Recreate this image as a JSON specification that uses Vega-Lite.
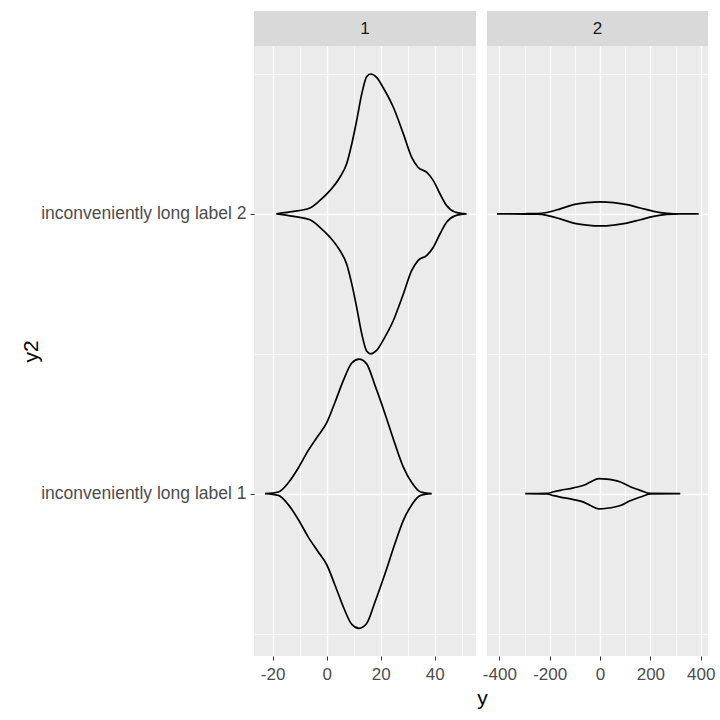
{
  "$schema": "https://vega.github.io/schema/vega-lite/v6.json",
  "background": "white",
  "padding": {"left": 20, "top": 11, "right": 5, "bottom": 5},
  "config": {
    "font": "Liberation Sans",
    "view": {"fill": "#EBEBEB", "stroke": null}
  },
  "title": {
    "text": "y",
    "orient": "bottom",
    "anchor": "middle",
    "fontSize": 21,
    "fontWeight": "normal",
    "color": "#000000",
    "dx": 115,
    "offset": 6
  },
  "datasets": {
    "violins": [
      {"panel": "1", "cat": 2, "value": -18.6, "lo": 2, "hi": 2},
      {"panel": "1", "cat": 2, "value": -13.6, "lo": 1.993, "hi": 2.007},
      {"panel": "1", "cat": 2, "value": -6.2, "lo": 1.979, "hi": 2.021},
      {"panel": "1", "cat": 2, "value": -2.5, "lo": 1.952, "hi": 2.048},
      {"panel": "1", "cat": 2, "value": 1.2, "lo": 1.917, "hi": 2.083},
      {"panel": "1", "cat": 2, "value": 4.9, "lo": 1.869, "hi": 2.131},
      {"panel": "1", "cat": 2, "value": 7.4, "lo": 1.821, "hi": 2.179},
      {"panel": "1", "cat": 2, "value": 9.3, "lo": 1.75, "hi": 2.25},
      {"panel": "1", "cat": 2, "value": 11.1, "lo": 1.667, "hi": 2.333},
      {"panel": "1", "cat": 2, "value": 13.0, "lo": 1.571, "hi": 2.429},
      {"panel": "1", "cat": 2, "value": 14.8, "lo": 1.51, "hi": 2.49},
      {"panel": "1", "cat": 2, "value": 16.3, "lo": 1.5, "hi": 2.5},
      {"panel": "1", "cat": 2, "value": 18.5, "lo": 1.512, "hi": 2.488},
      {"panel": "1", "cat": 2, "value": 21.0, "lo": 1.55, "hi": 2.45},
      {"panel": "1", "cat": 2, "value": 24.7, "lo": 1.619, "hi": 2.381},
      {"panel": "1", "cat": 2, "value": 28.4, "lo": 1.714, "hi": 2.286},
      {"panel": "1", "cat": 2, "value": 31.5, "lo": 1.798, "hi": 2.202},
      {"panel": "1", "cat": 2, "value": 33.9, "lo": 1.834, "hi": 2.166},
      {"panel": "1", "cat": 2, "value": 37.0, "lo": 1.851, "hi": 2.149},
      {"panel": "1", "cat": 2, "value": 39.5, "lo": 1.881, "hi": 2.119},
      {"panel": "1", "cat": 2, "value": 42.0, "lo": 1.929, "hi": 2.071},
      {"panel": "1", "cat": 2, "value": 44.4, "lo": 1.97, "hi": 2.03},
      {"panel": "1", "cat": 2, "value": 47.5, "lo": 1.993, "hi": 2.007},
      {"panel": "1", "cat": 2, "value": 51.8, "lo": 2, "hi": 2},
      {"panel": "1", "cat": 1, "value": -22.8, "lo": 1, "hi": 1},
      {"panel": "1", "cat": 1, "value": -17.9, "lo": 0.994, "hi": 1.006},
      {"panel": "1", "cat": 1, "value": -14.2, "lo": 0.961, "hi": 1.039},
      {"panel": "1", "cat": 1, "value": -10.5, "lo": 0.908, "hi": 1.092},
      {"panel": "1", "cat": 1, "value": -6.8, "lo": 0.845, "hi": 1.155},
      {"panel": "1", "cat": 1, "value": -3.1, "lo": 0.792, "hi": 1.208},
      {"panel": "1", "cat": 1, "value": 0, "lo": 0.747, "hi": 1.253},
      {"panel": "1", "cat": 1, "value": 3.1, "lo": 0.673, "hi": 1.327},
      {"panel": "1", "cat": 1, "value": 6.2, "lo": 0.595, "hi": 1.405},
      {"panel": "1", "cat": 1, "value": 9.3, "lo": 0.533, "hi": 1.467},
      {"panel": "1", "cat": 1, "value": 12.0, "lo": 0.519, "hi": 1.481},
      {"panel": "1", "cat": 1, "value": 14.8, "lo": 0.536, "hi": 1.464},
      {"panel": "1", "cat": 1, "value": 17.9, "lo": 0.613, "hi": 1.387},
      {"panel": "1", "cat": 1, "value": 21.6, "lo": 0.714, "hi": 1.286},
      {"panel": "1", "cat": 1, "value": 25.3, "lo": 0.822, "hi": 1.178},
      {"panel": "1", "cat": 1, "value": 28.4, "lo": 0.905, "hi": 1.095},
      {"panel": "1", "cat": 1, "value": 31.5, "lo": 0.96, "hi": 1.04},
      {"panel": "1", "cat": 1, "value": 34.6, "lo": 0.993, "hi": 1.007},
      {"panel": "1", "cat": 1, "value": 38.9, "lo": 1, "hi": 1},
      {"panel": "2", "cat": 2, "value": -409, "lo": 2, "hi": 2},
      {"panel": "2", "cat": 2, "value": -300, "lo": 1.9995, "hi": 2.0005},
      {"panel": "2", "cat": 2, "value": -250, "lo": 1.999, "hi": 2.001},
      {"panel": "2", "cat": 2, "value": -211, "lo": 1.995, "hi": 2.005},
      {"panel": "2", "cat": 2, "value": -158, "lo": 1.982, "hi": 2.018},
      {"panel": "2", "cat": 2, "value": -105, "lo": 1.967, "hi": 2.033},
      {"panel": "2", "cat": 2, "value": -52, "lo": 1.96, "hi": 2.04},
      {"panel": "2", "cat": 2, "value": 1, "lo": 1.957, "hi": 2.043},
      {"panel": "2", "cat": 2, "value": 54, "lo": 1.96, "hi": 2.04},
      {"panel": "2", "cat": 2, "value": 107, "lo": 1.967, "hi": 2.033},
      {"panel": "2", "cat": 2, "value": 160, "lo": 1.979, "hi": 2.021},
      {"panel": "2", "cat": 2, "value": 213, "lo": 1.991, "hi": 2.009},
      {"panel": "2", "cat": 2, "value": 266, "lo": 1.998, "hi": 2.002},
      {"panel": "2", "cat": 2, "value": 319, "lo": 2, "hi": 2},
      {"panel": "2", "cat": 2, "value": 392, "lo": 2, "hi": 2},
      {"panel": "2", "cat": 1, "value": -297, "lo": 1, "hi": 1},
      {"panel": "2", "cat": 1, "value": -211, "lo": 0.999, "hi": 1.001},
      {"panel": "2", "cat": 1, "value": -184, "lo": 0.993, "hi": 1.007},
      {"panel": "2", "cat": 1, "value": -158, "lo": 0.988, "hi": 1.012},
      {"panel": "2", "cat": 1, "value": -105, "lo": 0.979, "hi": 1.021},
      {"panel": "2", "cat": 1, "value": -65, "lo": 0.97, "hi": 1.03},
      {"panel": "2", "cat": 1, "value": -38, "lo": 0.958, "hi": 1.042},
      {"panel": "2", "cat": 1, "value": -5, "lo": 0.946, "hi": 1.054},
      {"panel": "2", "cat": 1, "value": 28, "lo": 0.948, "hi": 1.052},
      {"panel": "2", "cat": 1, "value": 81, "lo": 0.958, "hi": 1.042},
      {"panel": "2", "cat": 1, "value": 120, "lo": 0.975, "hi": 1.025},
      {"panel": "2", "cat": 1, "value": 160, "lo": 0.988, "hi": 1.012},
      {"panel": "2", "cat": 1, "value": 200, "lo": 0.999, "hi": 1.001},
      {"panel": "2", "cat": 1, "value": 319, "lo": 1, "hi": 1}
    ]
  },
  "spacing": 6,
  "hconcat": [
    {
      "spacing": 0,
      "vconcat": [
        {
          "width": 222,
          "height": 35,
          "view": {"fill": "#D9D9D9", "stroke": null},
          "data": {"values": [{"panel": "1"}]},
          "mark": {"type": "text", "fontSize": 17, "color": "#1A1A1A", "baseline": "middle", "align": "center"},
          "encoding": {"text": {"field": "panel", "type": "nominal"}}
        },
        {
          "width": 222,
          "height": 610,
          "data": {"name": "violins"},
          "transform": [{"filter": "datum.panel == '1'"}],
          "mark": {"type": "area", "interpolate": "monotone", "fillOpacity": 0, "stroke": "#000000", "strokeWidth": 1.7},
          "encoding": {
            "x": {
              "field": "value", "type": "quantitative",
              "scale": {"domain": [-26.9, 55.3], "nice": false, "zero": false},
              "axis": {
                "values": [-20, -10, 0, 10, 20, 30, 40, 50],
                "labelExpr": "datum.value % 20 === 0 ? '' + datum.value : ''",
                "domain": false,
                "gridColor": "#FFFFFF",
                "gridOpacity": 1,
                "gridWidth": {"condition": {"test": "datum.value % 20 === 0", "value": 1.4}, "value": 0.7},
                "tickOpacity": {"condition": {"test": "datum.value % 20 === 0", "value": 1}, "value": 0},
                "tickColor": "#333333",
                "tickSize": 4,
                "labelColor": "#4D4D4D",
                "labelFontSize": 17,
                "labelPadding": 6,
                "title": null
              }
            },
            "y": {
              "field": "lo", "type": "quantitative",
              "scale": {"domain": [0.42, 2.6], "nice": false, "zero": false},
              "axis": {
                "values": [0.5, 1, 1.5, 2, 2.5],
                "labelExpr": "datum.value == 1 ? 'inconveniently long label 1' : (datum.value == 2 ? 'inconveniently long label 2' : '')",
                "labelLimit": 0,
                "domain": false,
                "gridColor": "#FFFFFF",
                "gridOpacity": 1,
                "gridWidth": {"condition": {"test": "datum.value % 1 === 0", "value": 1.4}, "value": 0.7},
                "tickOpacity": {"condition": {"test": "datum.value % 1 === 0", "value": 1}, "value": 0},
                "tickColor": "#333333",
                "tickSize": 4,
                "labelColor": "#4D4D4D",
                "labelFontSize": 17.5,
                "labelPadding": 4,
                "title": "y2",
                "titleFontSize": 21,
                "titleFontWeight": "normal",
                "titleColor": "#000000",
                "titlePadding": 13
              }
            },
            "y2": {"field": "hi"},
            "detail": {"field": "cat", "type": "nominal"}
          }
        }
      ]
    },
    {
      "spacing": 0,
      "vconcat": [
        {
          "width": 221,
          "height": 35,
          "view": {"fill": "#D9D9D9", "stroke": null},
          "data": {"values": [{"panel": "2"}]},
          "mark": {"type": "text", "fontSize": 17, "color": "#1A1A1A", "baseline": "middle", "align": "center"},
          "encoding": {"text": {"field": "panel", "type": "nominal"}}
        },
        {
          "width": 221,
          "height": 610,
          "data": {"name": "violins"},
          "transform": [{"filter": "datum.panel == '2'"}],
          "mark": {"type": "area", "interpolate": "monotone", "fillOpacity": 0, "stroke": "#000000", "strokeWidth": 1.7},
          "encoding": {
            "x": {
              "field": "value", "type": "quantitative",
              "scale": {"domain": [-449, 429], "nice": false, "zero": false},
              "axis": {
                "values": [-400, -300, -200, -100, 0, 100, 200, 300, 400],
                "labelExpr": "datum.value % 200 === 0 ? '' + datum.value : ''",
                "domain": false,
                "gridColor": "#FFFFFF",
                "gridOpacity": 1,
                "gridWidth": {"condition": {"test": "datum.value % 200 === 0", "value": 1.4}, "value": 0.7},
                "tickOpacity": {"condition": {"test": "datum.value % 200 === 0", "value": 1}, "value": 0},
                "tickColor": "#333333",
                "tickSize": 4,
                "labelColor": "#4D4D4D",
                "labelFontSize": 17,
                "labelPadding": 6,
                "title": null
              }
            },
            "y": {
              "field": "lo", "type": "quantitative",
              "scale": {"domain": [0.42, 2.6], "nice": false, "zero": false},
              "axis": {
                "values": [0.5, 1, 1.5, 2, 2.5],
                "labels": false,
                "ticks": false,
                "domain": false,
                "gridColor": "#FFFFFF",
                "gridOpacity": 1,
                "gridWidth": {"condition": {"test": "datum.value % 1 === 0", "value": 1.4}, "value": 0.7},
                "title": null
              }
            },
            "y2": {"field": "hi"},
            "detail": {"field": "cat", "type": "nominal"}
          }
        }
      ]
    }
  ]
}
